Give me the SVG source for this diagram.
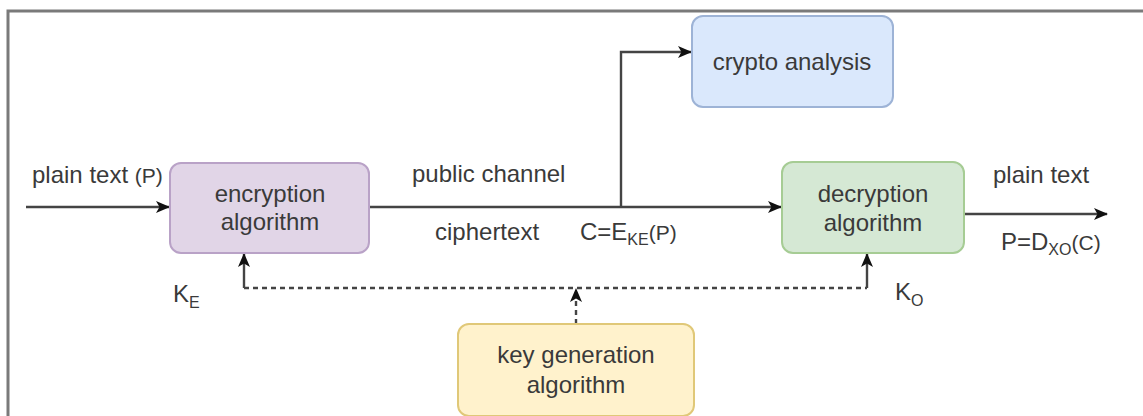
<svg xmlns="http://www.w3.org/2000/svg" width="1143" height="416" viewBox="0 0 1143 416">
  <style>
    .lbl { font-family: "Liberation Sans", Arial, sans-serif; font-size: 24px; fill: #3a3a3a; }
    .sub { font-size: 16px; }
    .ctr { text-anchor: middle; }
    .edge { fill: none; stroke: #444; stroke-width: 2.4; }
    .dash { stroke-dasharray: 5 4; }
    .frame { fill: none; stroke: #7a7a7a; stroke-width: 3; }
  </style>
  <defs>
    <marker id="arrow" viewBox="0 0 14 12" refX="13" refY="6" markerWidth="14" markerHeight="12" markerUnits="userSpaceOnUse" orient="auto">
      <path d="M0,0 L14,6 L0,12 L3.5,6 Z" fill="#111"/>
    </marker>
  </defs>

  <rect width="1143" height="416" fill="#fff"/>
  <!-- outer frame (top and left edges) -->
  <path class="frame" d="M8,416 V11 H1143"/>

  <g id="connectors">
    <!-- plain text into encryption -->
    <path class="edge" d="M26,207 H169" marker-end="url(#arrow)"/>
    <!-- public channel -->
    <path class="edge" d="M369,207 H781" marker-end="url(#arrow)"/>
    <!-- tap to crypto analysis -->
    <path class="edge" d="M621,207 V52 H691" marker-end="url(#arrow)"/>
    <!-- decrypted output -->
    <path class="edge" d="M964,214 H1107" marker-end="url(#arrow)"/>
    <!-- key distribution -->
    <path class="edge dash" d="M244,288 H867"/>
    <path class="edge" d="M244,288 V254" marker-end="url(#arrow)"/>
    <path class="edge" d="M867,288 V254" marker-end="url(#arrow)"/>
    <path class="edge dash" d="M576,324 V289" marker-end="url(#arrow)"/>
  </g>

  <g id="encryption">
    <rect x="170" y="163" width="199" height="90" rx="11" fill="#e1d5e7" stroke="#b9a2c7" stroke-width="2"/>
    <text class="lbl ctr" x="270" y="202">encryption</text>
    <text class="lbl ctr" x="270" y="230">algorithm</text>
  </g>

  <g id="crypto-analysis">
    <rect x="692" y="16" width="201" height="91" rx="11" fill="#dae8fc" stroke="#9db3d6" stroke-width="2"/>
    <text class="lbl ctr" x="792" y="70">crypto analysis</text>
  </g>

  <g id="decryption">
    <rect x="782" y="162" width="182" height="91" rx="11" fill="#d5e8d4" stroke="#a6cc94" stroke-width="2"/>
    <text class="lbl ctr" x="873" y="202">decryption</text>
    <text class="lbl ctr" x="873" y="231">algorithm</text>
  </g>

  <g id="key-generation">
    <rect x="458" y="324" width="236" height="92" rx="11" fill="#fff2cc" stroke="#e0c878" stroke-width="2"/>
    <text class="lbl ctr" x="576" y="363">key generation</text>
    <text class="lbl ctr" x="576" y="393">algorithm</text>
  </g>

  <g id="labels">
    <text class="lbl" x="32" y="183">plain text <tspan font-size="21">(P)</tspan></text>
    <text class="lbl" x="412" y="182">public channel</text>
    <text class="lbl" x="435" y="240">ciphertext</text>
    <text class="lbl" x="580" y="240">C=E<tspan class="sub" dy="5">KE</tspan><tspan dy="-5" font-size="21">(P)</tspan></text>
    <text class="lbl" x="993" y="183">plain text</text>
    <text class="lbl" x="1001" y="250">P=D<tspan class="sub" dy="5">XO</tspan><tspan dy="-5" font-size="21">(C)</tspan></text>
    <text class="lbl" x="173" y="302">K<tspan class="sub" dy="6">E</tspan></text>
    <text class="lbl" x="895" y="300">K<tspan class="sub" dy="6">O</tspan></text>
  </g>
</svg>
